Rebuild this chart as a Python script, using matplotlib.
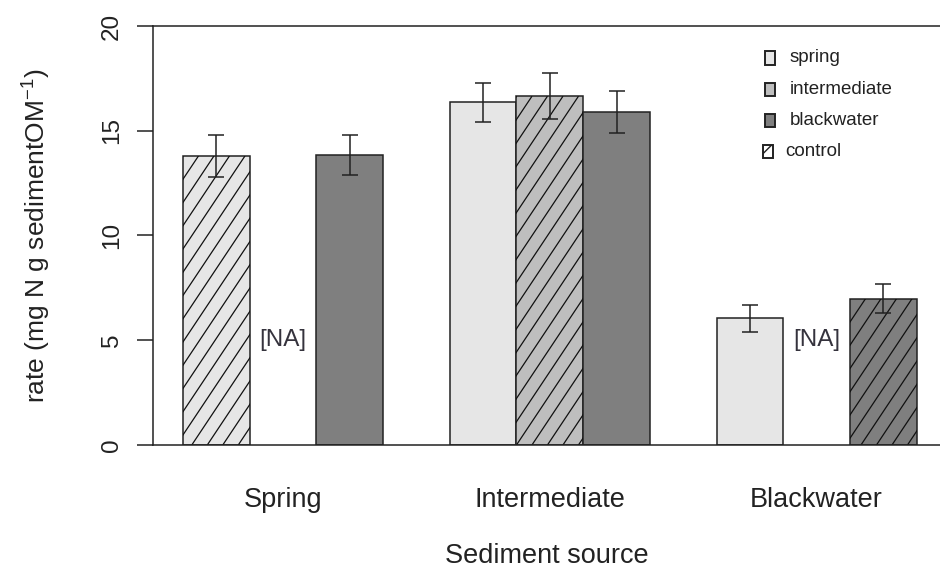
import numpy as np
import matplotlib
matplotlib.use("Agg")
import matplotlib.pyplot as plt
from matplotlib.patches import Rectangle
from matplotlib.collections import LineCollection

plt.rcParams['font.family'] = ['Liberation Sans', 'DejaVu Sans']
plt.rcParams['mathtext.fontset'] = 'custom'
plt.rcParams['mathtext.rm'] = 'Liberation Sans'
plt.rcParams['mathtext.it'] = 'Liberation Sans'
plt.rcParams['hatch.linewidth'] = 1.0
plt.rcParams['hatch.color'] = '#111111'

# sediment source groups, water source within each group
sources = ['Spring', 'Intermediate', 'Blackwater']
waters = ['spring', 'intermediate', 'blackwater']
water_cols = ['#e6e6e6', '#bebebe', '#7f7f7f']

# rate values (nan = not available), standard errors
rate = np.array([[13.80, np.nan, 13.85],
                 [16.35, 16.65, 15.90],
                 [6.05, np.nan, 6.98]])
err = np.array([[1.00, np.nan, 0.96],
                [0.95, 1.10, 1.00],
                [0.65, np.nan, 0.70]])
# control = water from the same source as the sediment
control = np.array([[True, False, False],
                    [False, True, False],
                    [False, False, True]])

ink = '#222222'
fig = plt.figure(figsize=(9.4, 5.75), dpi=100)
ax = fig.add_axes([153/940, 1-445/575, 1-153/940, (445-26)/575])
ax.set_xlim(0.55, 12.35)
ax.set_ylim(0, 20)

# steep R-style hatching, clipped to the bar
def hatch_bar(ax, patch, slope_px=1.5, gap_px=15.5):
    bb = ax.get_window_extent()
    sx = bb.width / np.diff(ax.get_xlim())[0]
    sy = bb.height / np.diff(ax.get_ylim())[0]
    k = slope_px * sx / sy
    dx = gap_px / sx
    x0, y0 = patch.get_x(), patch.get_y()
    x1, h = x0 + patch.get_width(), patch.get_height()
    cs = np.arange(x0 - h/k - dx, x1 + dx, dx)
    segs = [[(c, y0), (c + h/k, y0 + h)] for c in cs]
    lc = LineCollection(segs, colors='#111111', linewidths=0.9, zorder=2.5)
    ax.add_collection(lc)
    lc.set_clip_path(patch)

for g in range(len(sources)):
    for w in range(len(waters)):
        x = 1.5 + g*4 + w
        if np.isnan(rate[g, w]):
            ax.text(x, 5, '[NA]', ha='center', va='center', fontsize=17.5, color='#35333d')
            continue
        b = ax.bar(x, rate[g, w], width=1, color=water_cols[w], edgecolor=ink, linewidth=1.1,
                   zorder=2)
        if control[g, w]:
            hatch_bar(ax, b.patches[0])
        ax.errorbar(x, rate[g, w], yerr=err[g, w], fmt='none', ecolor=ink,
                    elinewidth=1.1, capsize=5.5, capthick=1.1, zorder=3)

ax.set_yticks([0, 5, 10, 15, 20])
ax.set_xticks([2.5, 6.5, 10.5])
ax.set_xticklabels(sources)
ax.tick_params(axis='x', length=0, pad=30, labelsize=19.5, colors=ink)
ax.tick_params(axis='y', length=11.5, width=1.1, pad=10, labelsize=17.5, colors=ink)
for lab in ax.get_yticklabels():
    lab.set_rotation(90)
    lab.set_va('center')
for s in ['left', 'top', 'bottom']:
    ax.spines[s].set_linewidth(1.1)
    ax.spines[s].set_color(ink)
ax.spines['right'].set_visible(False)

ax.set_ylabel('rate (mg N g sedimentOM$^{-1}$)', fontsize=19, color=ink, labelpad=35)
ax.set_xlabel('Sediment source', fontsize=19.5, color=ink, labelpad=22)

# legend drawn by hand, top right
leg_lab = waters + ['control']
leg_col = water_cols + ['white']
for i, (lab, col) in enumerate(zip(leg_lab, leg_col)):
    yc = 58 + i*31.3
    bx = 765 if lab != 'control' else 763
    tx = 790 if lab != 'control' else 785
    fig.add_artist(Rectangle((bx/940, 1-(yc+6.5)/575), 10/940, 13/575, transform=fig.transFigure,
                             facecolor=col, edgecolor=ink, linewidth=1.4,
                             hatch='//' if lab == 'control' else None))
    fig.text(tx/940, 1-yc/575, lab, fontsize=13.5, color=ink, va='center', ha='left')

fig.savefig('out.png', dpi=100)
